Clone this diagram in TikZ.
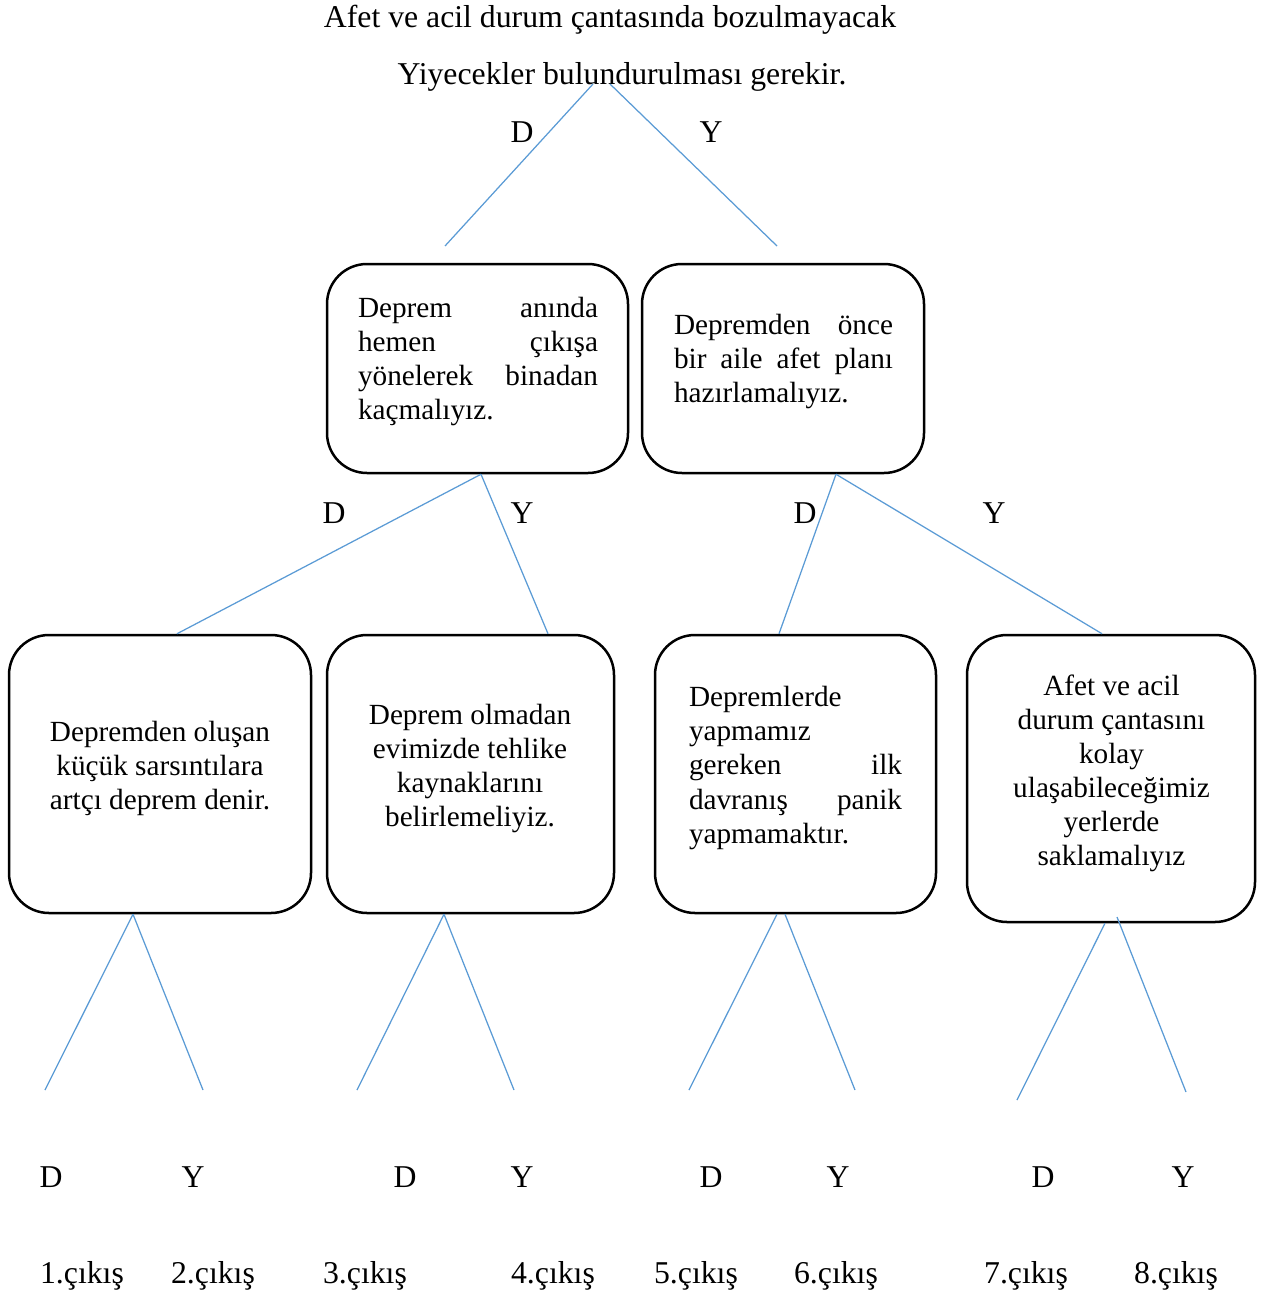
\documentclass[tikz,border=0pt]{standalone}
\usepackage{fontspec}
\setmainfont{Liberation Serif}
\usetikzlibrary{fit}
\definecolor{lineblue}{RGB}{91,155,213}
\begin{document}
\begin{tikzpicture}[x=0.4pt,y=-0.4pt,
 box/.style={draw=black, line width=1pt, rounded corners=16pt, inner sep=0pt},
 conn/.style={draw=lineblue, line width=0.5pt},
 lbl/.style={font=\fontsize{12.7}{15}\selectfont, inner sep=0pt, anchor=base},
 boxtext/.style={font=\fontsize{11.7}{13.6}\selectfont, inner sep=0pt}]
\useasboundingbox (0,0) rectangle (1262,1292);
% title
\node[lbl] (t1) at (610,28) {Afet ve acil durum çantasında bozulmayacak};
\node[lbl] (t2) at (622,85) {Yiyecekler bulundurulması gerekir.};
\coordinate (r0l) at (593,84);
\coordinate (r0r) at (610,84);
\coordinate (r1l) at (445,246);
\coordinate (r1r) at (777,246);
\draw[conn] (r0l) -- (r1l);
\draw[conn] (r0r) -- (r1r);
\node[lbl] (d0) at (522,142) {D};
\node[lbl] (y0) at (711,142) {Y};
% level 1 boxes
\node[box, fit={(327,264) (628,473)}] (A) {};
\node[boxtext, text width=96pt, align=left] (tA) at (478,362)
  {Deprem\hfill anında\\ hemen\hfill çıkışa\\ yönelerek\hfill binadan\\ kaçmalıyız.};
\node[box, fit={(642,264) (924,473)}] (B) {};
\node[boxtext, text width=87.6pt, align=left] (tB) at (783.5,362)
  {Depremden\hfill önce\\ bir\hfill aile\hfill afet\hfill planı\\ hazırlamalıyız.};
% level 2 boxes
\node[box, fit={(9,635) (311,913)}] (C) {};
\node[boxtext, align=center] (tC) at (160,768)
  {Depremden oluşan\\ küçük sarsıntılara\\ artçı deprem denir.};
\node[box, fit={(327,635) (614,913)}] (E) {};
\node[boxtext, align=center] (tE) at (470,768)
  {Deprem olmadan\\ evimizde tehlike\\ kaynaklarını\\ belirlemeliyiz.};
\node[box, fit={(655,635) (936,913)}] (F) {};
\node[boxtext, text width=85.2pt, align=left] (tF) at (795.5,768)
  {Depremlerde\\ yapmamız\\ gereken\hfill ilk\\ davranış\hfill panik\\ yapmamaktır.};
\node[box, fit={(967,635) (1255,922)}] (G) {};
\node[boxtext, align=center] (tG) at (1111.5,773)
  {Afet ve acil\\ durum çantasını\\ kolay\\ ulaşabileceğimiz\\ yerlerde\\ saklamalıyız};
% level 1 connectors
\draw[conn] (481,0 |- A.south) -- (177,0 |- C.north);
\draw[conn] (481,0 |- A.south) -- (548,0 |- E.north);
\draw[conn] (836,0 |- B.south) -- (779,0 |- F.north);
\draw[conn] (836,0 |- B.south) -- (1102,0 |- G.north);
\node[lbl] (d1) at (334,523) {D};
\node[lbl] (y1) at (522,523) {Y};
\node[lbl] (d2) at (805,523) {D};
\node[lbl] (y2) at (994,523) {Y};
% leaf connectors
\coordinate (e1) at (45,1090);
\coordinate (e2) at (203,1090);
\coordinate (e3) at (357,1090);
\coordinate (e4) at (514,1090);
\coordinate (e5) at (689,1090);
\coordinate (e6) at (855,1090);
\coordinate (e7) at (1017,1100);
\coordinate (e8) at (1186,1092);
\draw[conn] (133,0 |- C.south) -- (e1);
\draw[conn] (133,0 |- C.south) -- (e2);
\draw[conn] (444,0 |- E.south) -- (e3);
\draw[conn] (444,0 |- E.south) -- (e4);
\draw[conn] (777,0 |- F.south) -- (e5);
\draw[conn] (785,0 |- F.south) -- (e6);
\draw[conn] (1105,0 |- G.south) -- (e7);
\draw[conn] (1117,917) -- (e8);
% bottom labels
\node[lbl] (d3) at (51,1187) {D};
\node[lbl] (y3) at (193,1187) {Y};
\node[lbl] (d4) at (405,1187) {D};
\node[lbl] (y4) at (522,1187) {Y};
\node[lbl] (d5) at (711,1187) {D};
\node[lbl] (y5) at (838,1187) {Y};
\node[lbl] (d6) at (1043,1187) {D};
\node[lbl] (y6) at (1183,1187) {Y};
\node[lbl] (o1) at (82,1283) {1.çıkış};
\node[lbl] (o2) at (213,1283) {2.çıkış};
\node[lbl] (o3) at (365,1283) {3.çıkış};
\node[lbl] (o4) at (553,1283) {4.çıkış};
\node[lbl] (o5) at (696,1283) {5.çıkış};
\node[lbl] (o6) at (836,1283) {6.çıkış};
\node[lbl] (o7) at (1026,1283) {7.çıkış};
\node[lbl] (o8) at (1176,1283) {8.çıkış};
\end{tikzpicture}
\end{document}
